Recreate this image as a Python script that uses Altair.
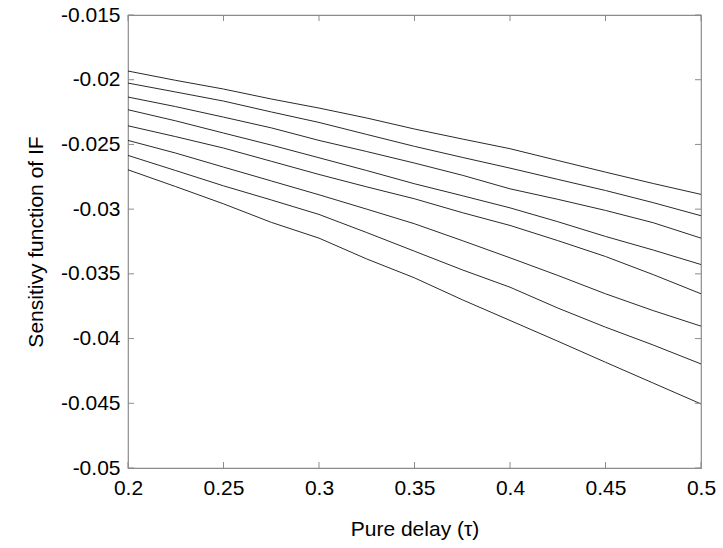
import altair as alt
import pandas as pd

# x positions (pure delay, tau)
tau = [0.2, 0.225, 0.25, 0.275, 0.3, 0.325, 0.35, 0.375, 0.4, 0.425, 0.45, 0.475, 0.5]

# eight sensitivity curves
s1 = [-0.01933, -0.02005, -0.02072, -0.02149, -0.02219, -0.02296, -0.02381, -0.02458, -0.02533, -0.02624, -0.02714, -0.02802, -0.02886]
s2 = [-0.02026, -0.02095, -0.02165, -0.02249, -0.0233, -0.02423, -0.02515, -0.026, -0.02683, -0.0277, -0.02856, -0.0295, -0.03051]
s3 = [-0.02134, -0.02208, -0.02289, -0.02372, -0.02469, -0.02555, -0.02644, -0.02738, -0.02843, -0.02924, -0.0301, -0.03105, -0.03224]
s4 = [-0.02232, -0.02318, -0.02412, -0.02505, -0.02603, -0.02702, -0.02804, -0.02896, -0.0299, -0.03097, -0.03211, -0.03316, -0.03428]
s5 = [-0.02356, -0.0244, -0.02528, -0.0263, -0.02732, -0.02828, -0.0292, -0.03027, -0.03126, -0.03243, -0.03366, -0.03506, -0.03654]
s6 = [-0.02469, -0.02567, -0.02675, -0.02782, -0.02889, -0.03, -0.03113, -0.03243, -0.03376, -0.03512, -0.03654, -0.03784, -0.03904]
s7 = [-0.02585, -0.02702, -0.0282, -0.02929, -0.03041, -0.03181, -0.03325, -0.03469, -0.03603, -0.03764, -0.03912, -0.0405, -0.04196]
s8 = [-0.02696, -0.02826, -0.02959, -0.03102, -0.03224, -0.03385, -0.03531, -0.037, -0.0386, -0.0402, -0.04183, -0.04344, -0.04505]

series = [s1, s2, s3, s4, s5, s6, s7, s8]

x_ticks = [0.2, 0.25, 0.3, 0.35, 0.4, 0.45, 0.5]
y_ticks = [-0.05, -0.045, -0.04, -0.035, -0.03, -0.025, -0.02, -0.015]

rows = []
for i, s in enumerate(series):
    for t, v in zip(tau, s):
        rows.append({"tau": t, "value": v, "curve": f"c{i+1}"})
df = pd.DataFrame(rows)

W, H = 573, 453
FONT = "Liberation Sans"

xscale = alt.Scale(domain=[0.2, 0.5], nice=False, zero=False)
yscale = alt.Scale(domain=[-0.05, -0.015], nice=False, zero=False)

lines = alt.Chart(df).mark_line(color="#2a2a2a", strokeWidth=1, clip=True).encode(
    x=alt.X("tau:Q", scale=xscale,
            axis=alt.Axis(title="Pure delay (τ)", values=x_ticks, format=".2~f",
                          domain=False, ticks=False, grid=False, labelFlush=False,
                          labelFont=FONT, labelFontSize=21, labelColor="black",
                          labelPadding=9, titleFont=FONT, titleFontSize=21,
                          titleFontWeight="normal", titleColor="black",
                          titlePadding=20)),
    y=alt.Y("value:Q", scale=yscale,
            axis=alt.Axis(title="Sensitivy function of IF", values=y_ticks,
                          labelExpr="'-' + format(-datum.value, '.3~f')",
                          domain=False, ticks=False, grid=False, labelFlush=False,
                          labelFont=FONT, labelFontSize=21, labelColor="black",
                          labelPadding=8, titleFont=FONT, titleFontSize=21,
                          titleFontWeight="normal", titleColor="black",
                          titlePadding=14)),
    detail="curve:N",
)

xt = pd.DataFrame({"t": x_ticks})
yt = pd.DataFrame({"v": y_ticks})
TICK = 6
tick_color = "#8c8c8c"

xb = alt.Chart(xt).mark_rule(color=tick_color, strokeWidth=1).encode(
    x=alt.X("t:Q", scale=xscale), y=alt.value(H), y2=alt.value(H - TICK))
xtop = alt.Chart(xt).mark_rule(color=tick_color, strokeWidth=1).encode(
    x=alt.X("t:Q", scale=xscale), y=alt.value(0), y2=alt.value(TICK))
yl = alt.Chart(yt).mark_rule(color=tick_color, strokeWidth=1).encode(
    y=alt.Y("v:Q", scale=yscale), x=alt.value(0), x2=alt.value(TICK))
yr = alt.Chart(yt).mark_rule(color=tick_color, strokeWidth=1).encode(
    y=alt.Y("v:Q", scale=yscale), x=alt.value(W), x2=alt.value(W - TICK))

chart = alt.layer(lines, xb, xtop, yl, yr).properties(
    width=W, height=H,
    autosize=alt.AutoSizeParams(type="none"),
    padding={"left": 128, "top": 15, "right": 22, "bottom": 80},
    background="white",
).configure_view(stroke="#8c8c8c", strokeWidth=1.2)

chart.save("out.html", embed_options={"renderer": "svg", "actions": False})
